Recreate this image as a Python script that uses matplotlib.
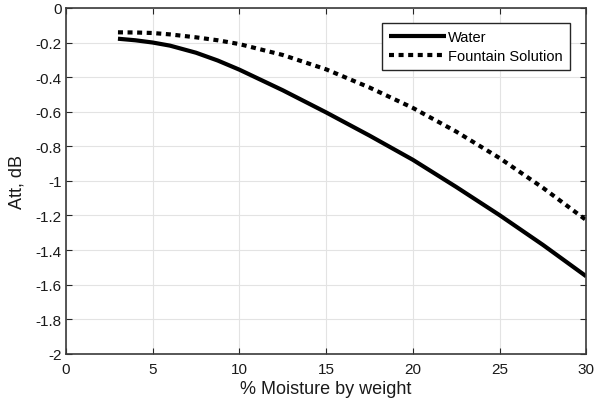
import matplotlib
matplotlib.use("Agg")
import matplotlib.pyplot as plt

plt.rcParams['font.family'] = ['Liberation Sans', 'DejaVu Sans']

moisture = [3, 4, 5, 6, 7.5, 8.75, 10, 12.5, 15, 17.5, 20, 22.5, 25, 27.5, 30]
water = [-0.178, -0.187, -0.200, -0.218, -0.259, -0.304, -0.357, -0.476, -0.604,
         -0.738, -0.878, -1.035, -1.198, -1.370, -1.552]
fountain = [-0.141, -0.142, -0.145, -0.153, -0.170, -0.187, -0.209, -0.272, -0.355,
            -0.460, -0.578, -0.715, -0.868, -1.040, -1.227]

xticks = [0, 5, 10, 15, 20, 25, 30]
xticklabels = ["0", "5", "10", "15", "20", "25", "30"]
yticks = [0, -0.2, -0.4, -0.6, -0.8, -1.0, -1.2, -1.4, -1.6, -1.8, -2.0]
yticklabels = ["0", "-0.2", "-0.4", "-0.6", "-0.8", "-1", "-1.2", "-1.4", "-1.6", "-1.8", "-2"]

fig = plt.figure(figsize=(5.94, 4.06), dpi=100)
ax = fig.add_axes([0.111, 0.126, 0.876, 0.852])

ax.plot(moisture, water, color='black', lw=3.0, solid_capstyle='butt',
        solid_joinstyle='round', label='Water')
ax.plot(moisture, fountain, color='black', lw=3.0, linestyle=(0, (1.2, 1.1)),
        dash_capstyle='butt', label='Fountain Solution')

ax.set_xlim(0, 30)
ax.set_ylim(-2, 0)
ax.set_xticks(xticks)
ax.set_xticklabels(xticklabels)
ax.set_yticks(yticks)
ax.set_yticklabels(yticklabels)
ax.tick_params(direction='in', length=4, width=0.8, top=True, right=True,
               labelsize=11, colors='#262626', labelcolor='#1a1a1a')
ax.tick_params(axis='x', pad=6)
ax.tick_params(axis='y', pad=3)
ax.grid(True, color='#e3e3e3', lw=0.8)
ax.set_axisbelow(True)
for s in ax.spines.values():
    s.set_color('#3a3a3a')
    s.set_linewidth(1.2)

ax.set_xlabel('% Moisture by weight', fontsize=13, color='#1a1a1a', labelpad=3)
ax.set_ylabel('Att, dB', fontsize=13, color='#1a1a1a', labelpad=7)

leg = ax.legend(loc='upper right', bbox_to_anchor=(0.968, 0.956), fontsize=10.5,
                handlelength=3.9, handletextpad=0.1, borderpad=0.5,
                labelspacing=0.3, fancybox=False, framealpha=1, borderaxespad=0)
leg.get_frame().set_edgecolor('#262626')
leg.get_frame().set_linewidth(1.0)

fig.savefig('out.png', dpi=100)
